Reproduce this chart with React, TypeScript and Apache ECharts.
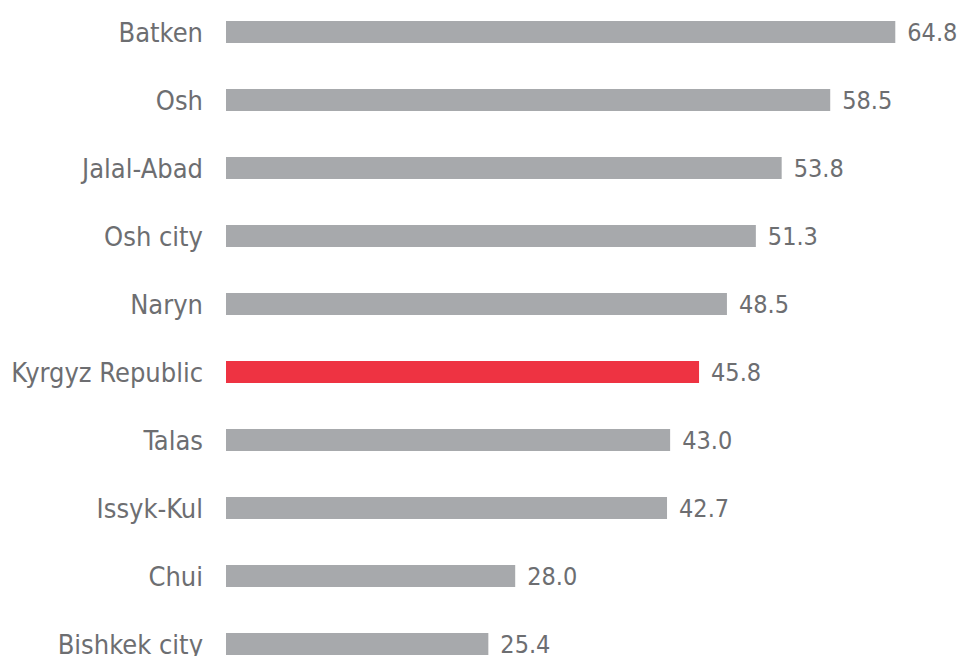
import React, { useEffect, useRef } from "react";
import * as echarts from "echarts";

const categories = [
  "Batken",
  "Osh",
  "Jalal-Abad",
  "Osh city",
  "Naryn",
  "Kyrgyz Republic",
  "Talas",
  "Issyk-Kul",
  "Chui",
  "Bishkek city",
];
const values = [64.8, 58.5, 53.8, 51.3, 48.5, 45.8, 43.0, 42.7, 28.0, 25.4];
const highlight = "Kyrgyz Republic";

const FONT = "'Liberation Sans Narrow', 'DejaVu Sans Condensed', 'Roboto', sans-serif";

export default function App() {
  const ref = useRef<HTMLDivElement>(null);
  useEffect(() => {
    if (!ref.current) return;
    const chart = echarts.init(ref.current, undefined, { renderer: "svg" });
    chart.setOption({
      animation: false,
      backgroundColor: "#ffffff",
      grid: {
        left: 226,
        right: 11,
        top: -2,
        bottom: -22,
        containLabel: false,
        outerBoundsMode: "none",
      },
      xAxis: {
        type: "value",
        min: 0,
        max: 70,
        show: false,
      },
      yAxis: {
        type: "category",
        data: categories,
        inverse: true,
        axisLine: { show: false },
        axisTick: { show: false },
        axisLabel: {
          margin: 23,
          fontFamily: FONT,
          fontSize: 27,
          color: "#6d6e71",
        },
      },
      series: [
        {
          type: "bar",
          barWidth: 22,
          data: values.map((v, i) => ({
            value: v,
            itemStyle: { color: categories[i] === highlight ? "#ee3342" : "#a7a9ac" },
          })),
          label: {
            show: true,
            position: "right",
            distance: 12,
            fontFamily: FONT,
            fontSize: 25,
            color: "#6d6e71",
            formatter: (p: any) => Number(p.value).toFixed(1),
          },
        },
      ],
    });
    return () => chart.dispose();
  }, []);
  return (
    <div
      ref={ref}
      style={{ position: "absolute", left: 0, top: 0, width: 960, height: 656 }}
    />
  );
}
